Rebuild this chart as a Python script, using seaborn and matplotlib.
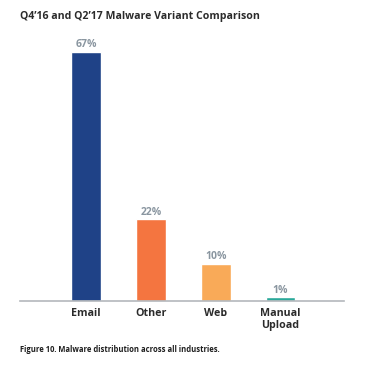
import pandas as pd
import matplotlib.pyplot as plt
import seaborn as sns

# Malware delivery vectors
categories = ['Email', 'Other', 'Web', 'Manual\nUpload']
shares = [67, 22, 10, 1]
colors = ['#1F4287', '#F47540', '#F9AA58', '#2AA89A']

df = pd.DataFrame({'vector': categories, 'share': shares})

sns.set_style('white')
plt.rcParams['font.family'] = ['Open Sans', 'DejaVu Sans']

fig = plt.figure(figsize=(3.68, 3.72), dpi=100)
ax = fig.add_axes([20 / 368, 71 / 372, 324 / 368, 261 / 372])

sns.barplot(data=df, x='vector', y='share', hue='vector', palette=colors,
            width=0.46, legend=False, ax=ax, saturation=1)

# value labels above bars
for i, v in enumerate(shares):
    ax.text(i, v + 0.4, f'{v}%', ha='center', va='bottom', fontsize=7.5,
            fontweight='bold', color='#8A96A0')

ax.set_xlim(-1.02, 3.98)
ax.set_ylim(0, 70.2)
ax.set_xlabel('')
ax.set_ylabel('')
ax.set_yticks([])
for s in ['top', 'right', 'left']:
    ax.spines[s].set_visible(False)
ax.spines['bottom'].set_color('#B4B8BC')
ax.spines['bottom'].set_linewidth(1.2)
ax.tick_params(axis='x', length=0, pad=5)
for lab in ax.get_xticklabels():
    lab.set_fontsize(7.7)
    lab.set_fontweight('bold')
    lab.set_color('#2B2B2B')
    lab.set_linespacing(1.1)

fig.text(20 / 368, 1 - 17 / 372, "Q4’16 and Q2’17 Malware Variant Comparison",
         ha='left', va='center', fontsize=7.6, fontweight='bold', color='#2B2B2B')
fig.text(20 / 368, 1 - 349 / 372, 'Figure 10. Malware distribution across all industries.',
         ha='left', va='center', fontsize=5.5, fontweight='bold', color='#1E1E1E')

fig.savefig('out.png', dpi=100)
